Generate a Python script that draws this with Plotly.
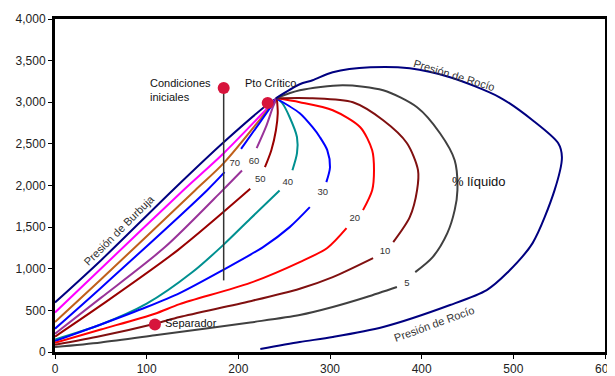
import plotly.graph_objects as go

# ---- data (temperature °F on x, pressure psia on y) ----
bub_x = [0, 50, 129, 184, 235, 242]
bub_y = [595, 1100, 1950, 2520, 3000, 3048]

q90_x = [0, 50, 140, 184, 242]
q90_y = [475, 1000, 1944, 2388, 3048]

q80_x = [0, 50, 153, 184, 242]
q80_y = [360, 870, 1944, 2268, 3048]

q70_x = [0, 50, 166, 185, None, 203, 223, 242]
q70_y = [280, 770, 1944, 2160, None, 2440, 2750, 3048]

q60_x = [0, 50, 120, 183, 204, None, 220, 230, 238, 242]
q60_y = [220, 650, 1260, 1944, 2180, None, 2448, 2700, 2950, 3048]

q50_x = [0, 50, 134, 213, None, 229, 236, 241, 243, 242]
q50_y = [185, 560, 1224, 1960, None, 2220, 2424, 2664, 2868, 3048]

q40_x = [0, 50, 100, 150, 184, 213, 245, None, 259, 264, 264, 256, 248, 242]
q40_y = [150, 330, 580, 960, 1290, 1600, 1940, None, 2184, 2388, 2580, 2820, 2988, 3048]

q30_x = [0, 50, 100, 136, 183, 227, 256, 278, None, 296, 300, 297, 289, 281, 267, 241]
q30_y = [130, 330, 540, 708, 984, 1260, 1500, 1740, None, 2040, 2220, 2424, 2580, 2700, 2868, 3048]

q20_x = [0, 50, 109, 136, 213, 267, 297, 318, None, 336, 346, 348, 346, 333, 303, 267, 241]
q20_y = [110, 270, 460, 575, 830, 1080, 1250, 1488, None, 1704, 1944, 2184, 2424, 2700, 2904, 3000, 3050]

q10_x = [0, 50, 109, 136, 213, 267, 303, 347, None, 369, 387, 395, 396, 384, 358, 325, 281, 241]
q10_y = [87, 192, 340, 420, 610, 760, 900, 1128, None, 1320, 1620, 1944, 2184, 2508, 2784, 3000, 3048, 3048]

q5_x = [0, 50, 109, 213, 267, 303, 340, 373, None, 393, 412, 428, 436, 439, 436, 420, 395, 358, 314, 267, 241]
q5_y = [60, 115, 200, 355, 444, 540, 660, 780, None, 960, 1140, 1428, 1704, 1944, 2304, 2628, 2940, 3144, 3204, 3144, 3048]

dew_x = [241, 267, 281, 303, 344, 387, 431, 485, 521, 549, 553, 545, 521, 493, 471, 431, 358, 303, 267, 224]
dew_y = [3048, 3216, 3264, 3360, 3420, 3408, 3300, 3060, 2784, 2508, 2340, 1944, 1308, 948, 744, 564, 300, 180, 120, 36]

lab_text = ["70", "60", "50", "40", "30", "20", "10", "5"]
lab_x = [196, 217, 224, 254, 292, 327, 360, 384]
lab_y = [2268, 2292, 2076, 2040, 1920, 1608, 1200, 816]

crit_x, crit_y = [232], [2990]
init_x, init_y = [184], [3170]
sep_x, sep_y = [109], [330]
vline_x = [184, 184]
vline_y = [3170, 860]

x_ticks = [0, 100, 200, 300, 400, 500, 600]
y_ticks = [0, 500, 1000, 1500, 2000, 2500, 3000, 3500, 4000]

series = [
    (bub_x, bub_y, "#000080"),
    (q90_x, q90_y, "#FF00FF"),
    (q80_x, q80_y, "#C0601A"),
    (q70_x, q70_y, "#0000FF"),
    (q60_x, q60_y, "#993399"),
    (q50_x, q50_y, "#990000"),
    (q40_x, q40_y, "#009090"),
    (q30_x, q30_y, "#0000FF"),
    (q20_x, q20_y, "#FF0000"),
    (q10_x, q10_y, "#801010"),
    (q5_x, q5_y, "#404040"),
    (dew_x, dew_y, "#000080"),
]

fig = go.Figure()
for xs, ys, col in series:
    fig.add_trace(go.Scatter(x=xs, y=ys, mode="lines",
                             line=dict(color=col, width=2, shape="spline", smoothing=0.8),
                             connectgaps=False, hoverinfo="skip", showlegend=False))

fig.add_trace(go.Scatter(x=vline_x, y=vline_y, mode="lines",
                         line=dict(color="#333333", width=1.5), showlegend=False))

fig.add_trace(go.Scatter(x=lab_x, y=lab_y, mode="text", text=lab_text,
                         textfont=dict(size=9.5, color="#333333", family="Arial, Liberation Sans"),
                         showlegend=False))

fig.add_trace(go.Scatter(x=crit_x + init_x + sep_x, y=crit_y + init_y + sep_y, mode="markers",
                         marker=dict(color="#D7143C", size=12), showlegend=False))

font = dict(family="Arial, Liberation Sans", size=11, color="#111111")
small = dict(family="Arial, Liberation Sans", size=11, color="#333333")
ann = [
    dict(x=101, y=3144, text="Condiciones<br>iniciales", xanchor="left", align="left", font=font),
    dict(x=205, y=3228, text="Pto Crítico", xanchor="left", font=font),
    dict(x=431, y=2052, text="% líquido", xanchor="left",
         font=dict(family="Arial, Liberation Sans", size=13, color="#111111")),
    dict(x=118, y=348, text="Separador", xanchor="left", font=font),
    dict(x=435, y=3324, text="Presión de Rocío", textangle=17, font=small),
    dict(x=413, y=336, text="Presión de Rocío", textangle=-20, font=small),
    dict(x=70, y=1464, text="Presión de Burbuja", textangle=-45, font=small),
]
for a in ann:
    a.update(xref="x", yref="y", showarrow=False)
fig.update_layout(annotations=ann)

# page body has an 8px margin, so the figure is sized to sit inside the 615x376 window
fig.update_layout(
    width=607, height=368,
    margin=dict(l=47, r=10, t=11, b=24),
    plot_bgcolor="white", paper_bgcolor="white",
    font=dict(family="Arial, Liberation Sans", size=12, color="#222222"),
)
fig.update_xaxes(range=[0, 600], tickvals=x_ticks, showgrid=False, zeroline=False, automargin=False,
                 ticklabeloverflow="allow",
                 showline=True, linecolor="black", linewidth=3, mirror=True,
                 ticks="outside", ticklen=4, tickcolor="black")
fig.update_yaxes(range=[0, 4000], tickvals=y_ticks, tickformat=",", showgrid=False, zeroline=False,
                 automargin=False, ticklabeloverflow="allow",
                 showline=True, linecolor="black", linewidth=3, mirror=True,
                 ticks="outside", ticklen=4, tickcolor="black")

fig.write_html("out.html")
